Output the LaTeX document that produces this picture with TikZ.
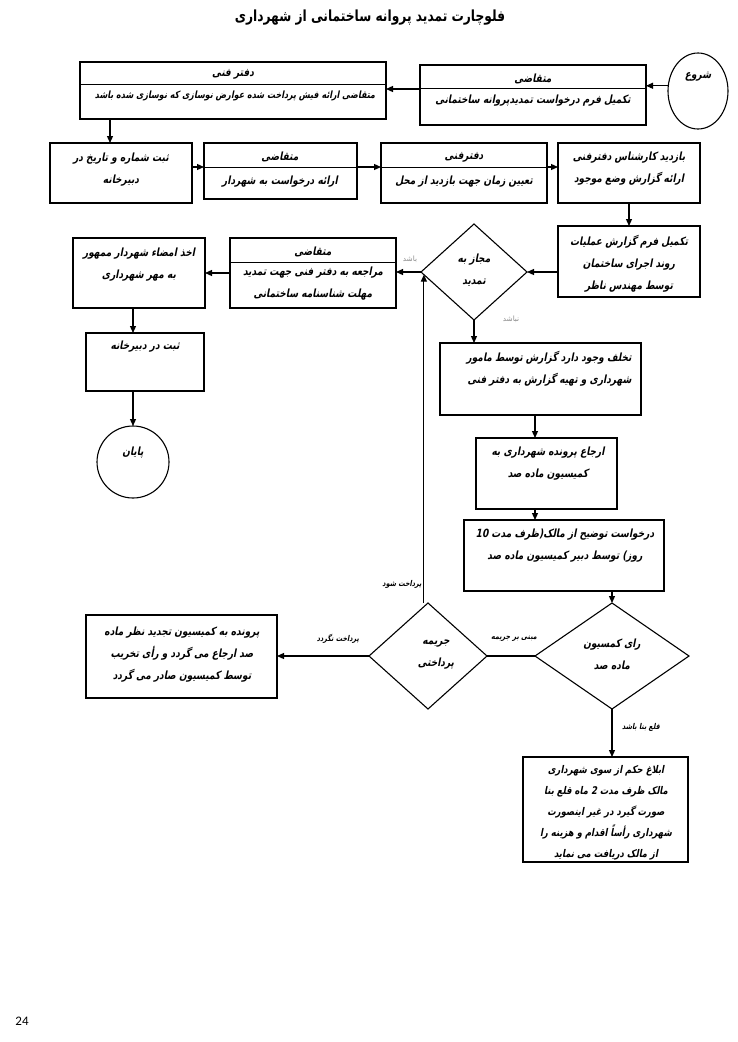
\documentclass[tikz,border=0pt]{standalone}
\usepackage{fontspec}
\usetikzlibrary{arrows.meta,shapes.geometric}
\TeXXeTstate=1
\newfontfamily\faf[Script=Arabic,FakeSlant=0.2,FakeStretch=0.8]{DejaVu Sans}
\newfontfamily\fatit[Script=Arabic]{DejaVu Sans}
\newfontfamily\fattl[Script=Arabic,FakeStretch=0.8]{DejaVu Sans}
\newfontfamily\numf{Carlito}
\newcommand\fl[1]{\beginR #1\endR}
\begin{document}
\begin{tikzpicture}[x=1pt,y=-1pt,
  box/.style={draw,line width=1.1pt,inner sep=0pt,outer sep=0pt,rectangle},
  dec/.style={draw,line width=1.1pt,diamond,inner sep=0pt,outer sep=0pt},
  term/.style={draw,line width=1.1pt,ellipse,inner sep=0pt,outer sep=0pt},
  txt/.style={inner sep=0pt,align=center,font=\faf\bfseries\fontsize{11.3}{22}\selectfont},
  txtsm/.style={inner sep=0pt,align=center,font=\faf\bfseries\fontsize{10}{22}\selectfont},
  lab/.style={inner sep=0pt,font=\faf\bfseries\fontsize{8}{9}\selectfont},
  glab/.style={inner sep=0pt,text=black!45,font=\fatit\fontsize{7.3}{8}\selectfont},
  arr/.style={line width=1.2pt,-{Triangle[length=7pt,width=6pt]}},
  ln/.style={line width=1.2pt},
  hline/.style={line width=0.9pt}]
\useasboundingbox (0,0) rectangle (737,1042);

% title
\node[inner sep=0pt,font=\fattl\bfseries\fontsize{15.3}{18}\selectfont] (title) at (370,18) {\fl{فلوچارت تمدید پروانه ساختمانی از شهرداری}};

% shapes
\node[term,minimum width=60pt,minimum height=76pt] (S) at (698,91) {};
\node[box,minimum width=306pt,minimum height=57pt] (A) at (233,90.5) {};
\node[box,minimum width=226pt,minimum height=60pt] (B) at (533,95) {};
\node[box,minimum width=142pt,minimum height=60pt] (C) at (121,173) {};
\node[box,minimum width=153pt,minimum height=56pt] (D) at (280.5,171) {};
\node[box,minimum width=166pt,minimum height=60pt] (E) at (464,173) {};
\node[box,minimum width=142pt,minimum height=60pt] (F) at (629,173) {};
\node[box,minimum width=142pt,minimum height=71pt] (G) at (629,261.5) {};
\node[dec,minimum width=106pt,minimum height=96pt] (H) at (474,272) {};
\node[box,minimum width=166pt,minimum height=70pt] (I) at (313,273) {};
\node[box,minimum width=132pt,minimum height=70pt] (J) at (139,273) {};
\node[box,minimum width=118pt,minimum height=58pt] (K) at (145,362) {};
\node[term,minimum width=72pt,minimum height=72pt] (End) at (133,462) {};
\node[box,minimum width=201pt,minimum height=72pt] (L) at (540.5,379) {};
\node[box,minimum width=141pt,minimum height=71pt] (M) at (546.5,473.5) {};
\node[box,minimum width=200pt,minimum height=71pt] (N) at (564,555.5) {};
\node[dec,minimum width=154pt,minimum height=106pt] (O) at (612,656) {};
\node[dec,minimum width=118pt,minimum height=106pt] (P) at (428,656) {};
\node[box,minimum width=191pt,minimum height=83pt] (Q) at (181.5,656.5) {};
\node[box,minimum width=165pt,minimum height=105pt] (R) at (605.5,809.5) {};

% header dividers
\draw[hline] ([yshift=-22pt]A.north west) -- ([yshift=-22pt]A.north east);
\draw[hline] ([yshift=-23pt]B.north west) -- ([yshift=-23pt]B.north east);
\draw[hline] ([yshift=-24pt]D.north west) -- ([yshift=-24pt]D.north east);
\draw[hline] ([yshift=-24pt]E.north west) -- ([yshift=-24pt]E.north east);
\draw[hline] ([yshift=-24pt]I.north west) -- ([yshift=-24pt]I.north east);

% texts
\node[txt] (St) at (698,77) {\fl{شروع}};
\node[txt] (At1) at (233,74) {\fl{دفتر فنی}};
\node[txtsm] (At2) at (235,96) {\fl{متقاضی ارائه فیش پرداخت شده عوارض نوسازی که نوسازی شده باشد}};
\node[txt] (Bt1) at (533,79) {\fl{متقاضی}};
\node[txt] (Bt2) at (533,101) {\fl{تکمیل فرم درخواست تمدیدپروانه ساختمانی}};
\node[txt] (Ct) at (121,169.5) {\fl{ثبت شماره و تاریخ در}\\\fl{دبیرخانه}};
\node[txt] (Dt1) at (280,157) {\fl{متقاضی}};
\node[txt] (Dt2) at (280,182) {\fl{ارائه درخواست به شهردار}};
\node[txt] (Et1) at (464,157) {\fl{دفترفنی}};
\node[txt] (Et2) at (464,182) {\fl{تعیین زمان جهت بازدید از محل}};
\node[txt] (Ft) at (629,168.5) {\fl{بازدید کارشناس دفترفنی}\\\fl{ارائه گزارش وضع موجود}};
\node[txt] (Gt) at (629,263.5) {\fl{تکمیل فرم گزارش عملیات}\\\fl{روند اجرای ساختمان}\\\fl{توسط مهندس ناظر}};
\node[txt] (Ht) at (474,270.5) {\fl{مجاز به}\\\fl{تمدید}};
\node[txt] (It1) at (313,252) {\fl{متقاضی}};
\node[txt] (It2) at (313,284) {\fl{مراجعه به دفتر فنی جهت تمدید}\\\fl{مهلت شناسنامه ساختمانی}};
\node[txt] (Jt) at (139,264.5) {\fl{اخذ امضاء شهردار ممهور}\\\fl{به مهر شهرداری}};
\node[txt] (Kt) at (145,347) {\fl{ثبت در دبیرخانه}};
\node[txt] (Endt) at (133,453) {\fl{پایان}};
\node[txt,align=right] (Lt) at (549,369) {\fl{تخلف وجود دارد گزارش توسط مامور}\\\fl{شهرداری و تهیه گزارش به دفتر فنی}};
\node[txt] (Mt) at (548,464) {\fl{ارجاع پرونده شهرداری به}\\\fl{کمیسیون ماده صد}};
\node[txt] (Nt) at (565,546) {\fl{درخواست توضیح از مالک(ظرف مدت \beginL 10\endL}\\\fl{روز)  توسط دبیر کمیسیون ماده صد}};
\node[txt] (Ot) at (612,654) {\fl{رای کمسیون}\\\fl{ماده صد}};
\node[txt] (Pt) at (436,655) {\fl{جریمه}\\\fl{پرداختی}};
\node[txt] (Qt) at (182,654.5) {\fl{پرونده به کمیسیون تجدید نظر ماده}\\\fl{صد ارجاع می گردد و رأی تخریب}\\\fl{توسط کمیسیون صادر می گردد}};
\node[txt,font=\faf\bfseries\fontsize{10.6}{21}\selectfont] (Rt) at (606,812.5) {\fl{ابلاغ حکم از سوی شهرداری}\\\fl{مالک ظرف مدت 2 ماه قلع بنا}\\\fl{صورت گیرد در غیر اینصورت}\\\fl{شهرداری رأساً اقدام و هزینه را}\\\fl{از مالک دریافت می نماید}};

% connectors
\draw[arr] (S.170) -- (B.east |- S.170);
\coordinate (b1) at ([yshift=-24pt]B.north west);
\draw[arr] (b1) -- (b1 -| A.east);
\coordinate (c1) at ([xshift=-11pt]C.north);
\draw[arr] (c1 |- A.south) -- (c1);
\coordinate (r2) at ([yshift=-24pt]C.north);
\draw[arr] (r2 -| C.east) -- (r2 -| D.west);
\draw[arr] (r2 -| D.east) -- (r2 -| E.west);
\draw[arr] (r2 -| E.east) -- (r2 -| F.west);
\draw[arr] (F.south) -- (G.north);
\draw[arr] (G.west |- H.east) -- (H.east);
\draw[arr] (H.west) -- (I.east |- H.west);
\node[glab] (lb1) at (410,259) {\fl{باشد}};
\draw[arr] (I.west) -- (J.east |- I.west);
\draw[arr] (End.north |- J.south) -- (End.north |- K.north);
\draw[arr] (End.north |- K.south) -- (End.north);
\draw[arr] (H.south) -- (H.south |- L.north);
\node[glab] (lb2) at (511,319) {\fl{نباشد}};
\coordinate (c2) at ([xshift=-11.5pt]M.north);
\draw[arr] (c2 |- L.south) -- (c2);
\draw[arr] (c2 |- M.south) -- (c2 |- N.north);
\draw[arr] (O.north |- N.south) -- (O.north);
\draw[ln] (O.west) -- (P.east);
\node[lab] (lb3) at (514,639) {\fl{مبنی بر جریمه}};
\draw[arr] (P.west) -- (Q.east |- P.west);
\node[lab] (lb4) at (338,639) {\fl{پرداخت نگردد}};
\coordinate (h1) at (H.183);
\draw[arr] (h1 |- P.north) -- (h1);
\node[lab] (lb5) at (402,584) {\fl{پرداخت شود}};
\draw[arr] (O.south) -- (O.south |- R.north);
\node[lab] (lb6) at (641,727) {\fl{قلع بنا باشد}};

\node[inner sep=0pt,font=\numf\fontsize{13}{15}\selectfont] (pg) at (22,1021) {24};
\end{tikzpicture}
\end{document}
